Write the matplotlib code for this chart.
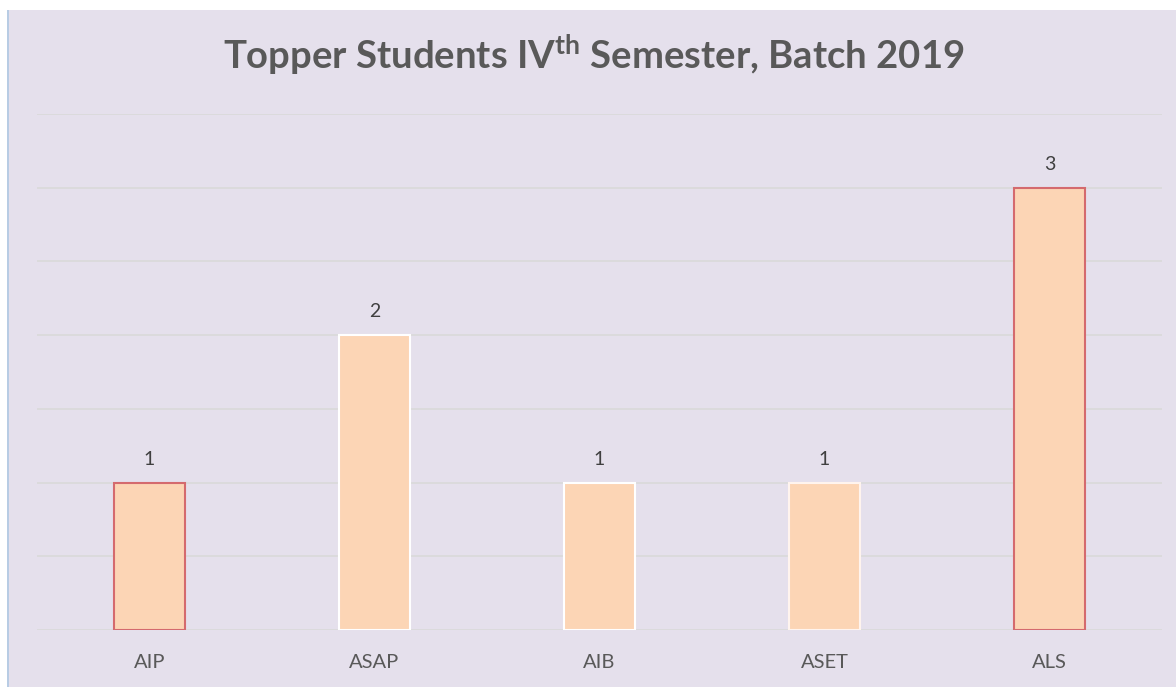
import matplotlib
matplotlib.use("Agg")
import matplotlib.pyplot as plt
from matplotlib.patches import Rectangle

categories = ["AIP", "ASAP", "AIB", "ASET", "ALS"]
values = [1, 2, 1, 1, 3]
edge_colors = ["#D46A6E", "#FFFFFF", "#FFFFFF", "#FFF4EE", "#D46A6E"]
title_text = "Topper Students IV$^{\\mathrm{th}}$ Semester, Batch 2019"

plt.rcParams['font.family'] = ['Lato', 'DejaVu Sans']
plt.rcParams['mathtext.fontset'] = 'custom'
plt.rcParams['mathtext.rm'] = 'Lato:bold'
plt.rcParams['mathtext.bf'] = 'Lato:bold'
plt.rcParams['mathtext.it'] = 'Lato:bold'

W, H = 1176, 687
fig = plt.figure(figsize=(W / 100, H / 100), dpi=100)
fig.patch.set_facecolor("white")

# chart area background
bg = Rectangle((8 / W, 0), 1 - 8 / W, 1 - 10 / H, transform=fig.transFigure,
               facecolor="#E5E0EC", edgecolor="none", zorder=-10)
fig.add_artist(bg)
edge = Rectangle((7 / W, 0), 2 / W, 1 - 10 / H, transform=fig.transFigure,
                 facecolor="#B8CCE4", edgecolor="none", zorder=-9)
fig.add_artist(edge)

ax = fig.add_axes([37 / W, 1 - 630 / H, (1162 - 37) / W, (630 - 114) / H])
ax.set_facecolor("none")
ax.set_zorder(1)

x = list(range(len(categories)))
bars = ax.bar(x, values, width=0.315, color="#FCD5B5", edgecolor=edge_colors,
              linewidth=1.5, zorder=3)

for xi, v in zip(x, values):
    ax.text(xi, v + 0.1, str(v), ha="center", va="bottom", fontsize=14,
            color="#404040", zorder=4)

ax.set_xlim(-0.5, len(categories) - 0.5)
ax.set_ylim(0, 3.5)
ax.set_yticks([0, 0.5, 1, 1.5, 2, 2.5, 3, 3.5])
ax.yaxis.grid(True, color="#D9D9D9", linewidth=1.2, zorder=0)
ax.set_axisbelow(True)
ax.tick_params(axis="y", left=False, labelleft=False)
ax.tick_params(axis="x", bottom=False, labelsize=14.5, labelcolor="#595959", pad=14)
ax.set_xticks(x)
ax.set_xticklabels(categories)
for s in ax.spines.values():
    s.set_visible(False)

fig.text(0.505, 1 - 69 / H, title_text, ha="center", va="baseline",
         fontsize=27.5, fontweight="bold", color="#595959", zorder=5)

fig.savefig("out.png", dpi=100, facecolor=fig.get_facecolor())
